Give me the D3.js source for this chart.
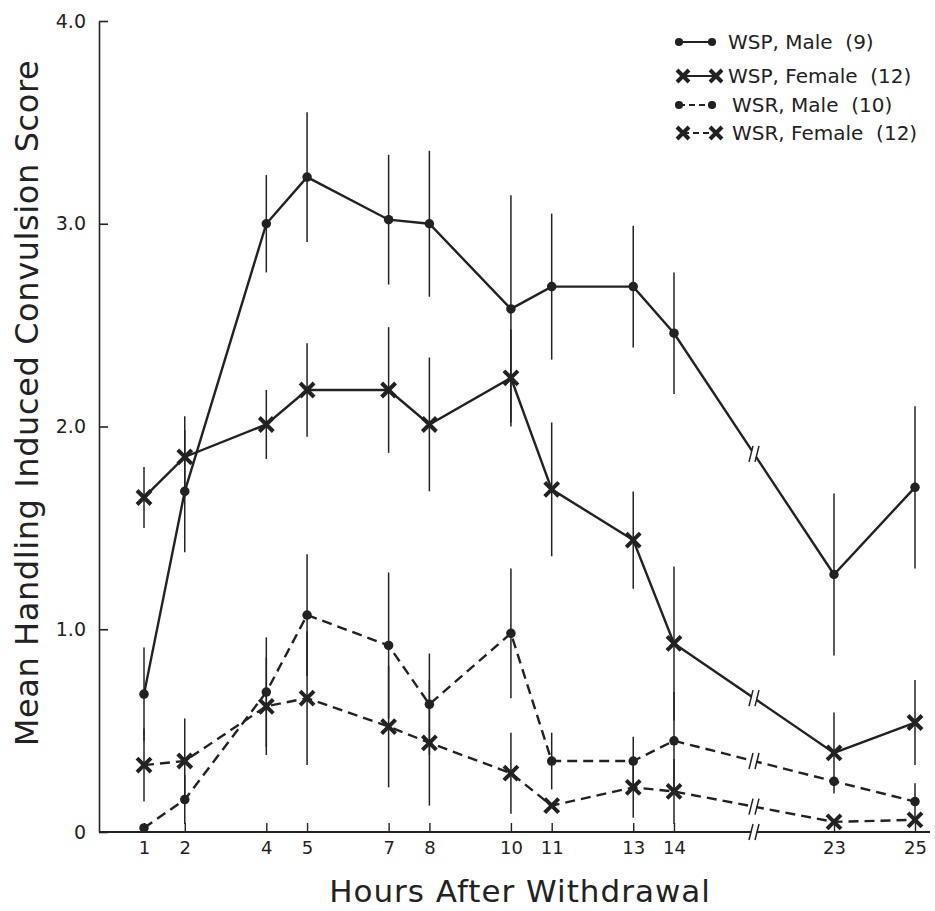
<!DOCTYPE html>
<html>
<head>
<meta charset="utf-8">
<script src="https://cdnjs.cloudflare.com/ajax/libs/d3/7.8.5/d3.min.js"></script>
<style>
  body { margin: 0; background: #fff; }
  svg { font-family: "DejaVu Sans", sans-serif; }
</style>
</head>
<body>
<svg width="935" height="911"></svg>
<script>
var svg = d3.select("svg");

// hours after withdrawal (axis is broken between 14 and 23)
var hours = [1, 2, 4, 5, 7, 8, 10, 11, 13, 14, 23, 25];

var wspMale      = [0.68, 1.68, 3.00, 3.23, 3.02, 3.00, 2.58, 2.69, 2.69, 2.46, 1.27, 1.70];
var wspMaleErr   = [0.23, 0.30, 0.24, 0.32, 0.32, 0.36, 0.56, 0.36, 0.30, 0.30, 0.40, 0.40];
var wspFemale    = [1.65, 1.85, 2.01, 2.18, 2.18, 2.01, 2.24, 1.69, 1.44, 0.93, 0.39, 0.54];
var wspFemaleErr = [0.15, 0.20, 0.17, 0.23, 0.31, 0.33, 0.24, 0.33, 0.24, 0.38, 0.20, 0.21];
var wsrMale      = [0.02, 0.16, 0.69, 1.07, 0.92, 0.63, 0.98, 0.35, 0.35, 0.45, 0.25, 0.15];
var wsrMaleErr   = [0.00, 0.12, 0.27, 0.30, 0.36, 0.25, 0.32, 0.14, 0.12, 0.24, 0.00, 0.09];
var wsrFemale    = [0.33, 0.35, 0.62, 0.66, 0.52, 0.44, 0.29, 0.13, 0.22, 0.20, 0.05, 0.06];
var wsrFemaleErr = [0.18, 0.21, 0.24, 0.33, 0.30, 0.31, 0.20, 0.00, 0.15, 0.16, 0.00, 0.00];

var yTicks = [0, 1, 2, 3, 4];
var yTickLabels = ["0", "1.0", "2.0", "3.0", "4.0"];

var legendLabels = ["WSP, Male  (9)", "WSP, Female  (12)", "WSR, Male  (10)", "WSR, Female  (12)"];

var ink = "#222";

var series = [
  {values: wspMale,   err: wspMaleErr,   marker: "dot", dashed: false},
  {values: wspFemale, err: wspFemaleErr, marker: "x",   dashed: false},
  {values: wsrMale,   err: wsrMaleErr,   marker: "dot", dashed: true},
  {values: wsrFemale, err: wsrFemaleErr, marker: "x",   dashed: true}
];

// scales - piecewise x to squeeze the 14..23 gap
var x = d3.scaleLinear().domain([1, 14, 23, 25]).range([144, 674, 834, 915]);
var y = d3.scaleLinear().domain([0, 4]).range([832, 21]);
var axisX = 99;
var breakX = (x(14) + x(23)) / 2;

// y axis
var yAxis = svg.append("g")
  .attr("transform", "translate(" + axisX + ",0)")
  .call(d3.axisLeft(y).tickValues(yTicks)
    .tickFormat(function(d, i) { return yTickLabels[i]; })
    .tickSizeInner(-9).tickSizeOuter(0).tickPadding(13));
yAxis.selectAll("path, line").attr("stroke", ink).attr("stroke-width", 1.6);
yAxis.selectAll("text").attr("font-size", 19).attr("fill", ink)
  .attr("font-family", "DejaVu Sans");

// x axis
var xAxis = svg.append("g")
  .attr("transform", "translate(0," + y(0) + ")")
  .call(d3.axisBottom(x).tickValues(hours).tickFormat(d3.format("d"))
    .tickSizeInner(-9).tickSizeOuter(0).tickPadding(9));
xAxis.select(".domain").remove();
xAxis.selectAll("line").attr("stroke", ink).attr("stroke-width", 1.4);
xAxis.selectAll("text").attr("font-size", 18).attr("fill", ink)
  .attr("font-family", "DejaVu Sans");
xAxis.append("line")
  .attr("x1", axisX).attr("x2", 930)
  .attr("stroke", ink).attr("stroke-width", 1.8);

// axis titles
svg.append("text")
  .attr("transform", "translate(38,403) rotate(-90)")
  .attr("text-anchor", "middle")
  .attr("font-size", 32).attr("fill", ink)
  .attr("letter-spacing", 0.6)
  .text("Mean Handling Induced Convulsion Score");

svg.append("text")
  .attr("x", 520).attr("y", 902)
  .attr("text-anchor", "middle")
  .attr("font-size", 31).attr("fill", ink)
  .attr("letter-spacing", 1)
  .text("Hours After Withdrawal");

function drawMarker(g, type, size) {
  if (type === "dot") {
    g.append("circle").attr("r", size * 0.68).attr("fill", ink);
  } else {
    g.append("path")
      .attr("d", "M" + (-size) + "," + (-size) + "L" + size + "," + size +
                 "M" + size + "," + (-size) + "L" + (-size) + "," + size)
      .attr("stroke", ink).attr("stroke-width", 4).attr("fill", "none");
  }
}

function drawBreak(cx, cy) {
  var g = svg.append("g").attr("transform", "translate(" + cx + "," + cy + ")");
  g.append("path").attr("d", "M-2,8L2,-8").attr("stroke", "#fff").attr("stroke-width", 5);
  g.append("path").attr("d", "M-5,8L-1,-8M1,8L5,-8").attr("stroke", ink).attr("stroke-width", 1.5);
}

var line = d3.line()
  .x(function(d) { return x(d[0]); })
  .y(function(d) { return y(d[1]); });

series.forEach(function(s) {
  var pts = hours.map(function(h, i) { return [h, s.values[i], s.err[i]]; });

  // error bars
  svg.append("g").selectAll("line")
    .data(pts.filter(function(d) { return d[2] > 0; }))
    .enter().append("line")
    .attr("x1", function(d) { return x(d[0]); })
    .attr("x2", function(d) { return x(d[0]); })
    .attr("y1", function(d) { return y(d[1] + d[2]); })
    .attr("y2", function(d) { return y(Math.max(0, d[1] - d[2])); })
    .attr("stroke", ink).attr("stroke-width", 1.5);

  svg.append("path")
    .attr("d", line(pts))
    .attr("fill", "none")
    .attr("stroke", ink)
    .attr("stroke-width", 2.4)
    .attr("stroke-dasharray", s.dashed ? "10,6" : null);

  pts.forEach(function(d) {
    var g = svg.append("g").attr("transform", "translate(" + x(d[0]) + "," + y(d[1]) + ")");
    drawMarker(g, s.marker, s.marker === "dot" ? 7 : 7);
  });

  drawBreak(breakX, (y(s.values[9]) + y(s.values[10])) / 2);
});

drawBreak(breakX, y(0));

// legend
var legendY = [42, 76, 105, 133];
series.forEach(function(s, i) {
  var ly = legendY[i];
  var x0 = s.marker === "dot" ? 679 : 683;
  var x1 = s.marker === "dot" ? 712 : 716;
  svg.append("line")
    .attr("x1", x0).attr("x2", x1).attr("y1", ly).attr("y2", ly)
    .attr("stroke", ink).attr("stroke-width", 2.2)
    .attr("stroke-dasharray", s.dashed ? "6,4" : null);
  [x0, x1].forEach(function(px) {
    var g = svg.append("g").attr("transform", "translate(" + px + "," + ly + ")");
    drawMarker(g, s.marker, s.marker === "dot" ? 6 : 6);
  });
  svg.append("text")
    .attr("x", s.dashed ? 732 : 728).attr("y", ly + 7)
    .attr("font-size", 20).attr("fill", ink)
    .style("white-space", "pre")
    .text(legendLabels[i]);
});
</script>
</body>
</html>
